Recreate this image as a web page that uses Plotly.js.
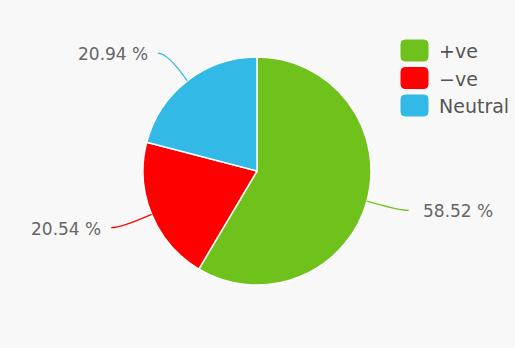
<!DOCTYPE html>
<html>
<head>
<meta charset="utf-8">
<script src="https://cdn.plot.ly/plotly-3.0.1.min.js"></script>
<style>
  html, body { margin: 0; padding: 0; background: #ffffff; }
  #chart { width: 515px; height: 348px; }
</style>
</head>
<body>
<div id="chart"></div>
<script>
// Sentiment split
const categories = ['+ve', '\u2212ve', 'Neutral'];
const shares = [58.52, 20.54, 20.94];
const sliceColors = ['#6ec21b', '#ff0000', '#33b9e6'];

const W = 515, H = 348;
const cx = 257, cy = 171, R = 114;   // pie centre and radius in pixels
const labelFont = { family: 'DejaVu Sans, sans-serif', size: 17, color: '#666666' };

const px = x => x / W;
const py = y => 1 - y / H;

const pie = {
  type: 'pie',
  labels: categories,
  values: shares,
  sort: false,
  direction: 'clockwise',
  rotation: 0,
  textinfo: 'none',
  hoverinfo: 'label+percent',
  marker: { colors: sliceColors, line: { color: '#ffffff', width: 1.5 } },
  domain: { x: [px(cx - R), px(cx + R)], y: [py(cy + R), py(cy - R)] },
  showlegend: false
};

// Connector lines and outside percentage labels, placed at each slice's mid-angle
const total = shares.reduce((a, b) => a + b, 0);
const shapes = [];
const annotations = [];
let acc = 0;
shares.forEach((v, i) => {
  const mid = (acc + v / 2) / total * 2 * Math.PI;
  acc += v;
  const dx = Math.sin(mid), dy = -Math.cos(mid);
  const ex = cx + R * dx, ey = cy + R * dy;
  const ox = cx + (R + 35) * dx, oy = cy + (R + 35) * dy;
  const side = dx >= 0 ? 1 : -1;
  const hx = ox + side * 8;
  shapes.push({
    type: 'path', xref: 'paper', yref: 'paper',
    path: `M ${px(ex)} ${py(ey)} Q ${px(ox - side * 2)} ${py(oy)} ${px(hx)} ${py(oy)}`,
    line: { color: sliceColors[i], width: 1.2 }
  });
  annotations.push({
    xref: 'paper', yref: 'paper',
    x: px(ox + side * (side > 0 ? 20 : 16)), y: py(oy + 1),
    xanchor: side > 0 ? 'left' : 'right', yanchor: 'middle',
    text: (v / total * 100).toFixed(2) + ' %',
    showarrow: false, font: labelFont
  });
});

// Legend: rounded swatches with labels
const legTop = 40, legStep = 27.5, swW = 27, swH = 21, swX = 401;
categories.forEach((name, i) => {
  const y0 = legTop + i * legStep, y1 = y0 + swH, x0 = swX, x1 = swX + swW, r = 4;
  const path = [
    `M ${px(x0 + r)} ${py(y0)}`, `L ${px(x1 - r)} ${py(y0)}`,
    `Q ${px(x1)} ${py(y0)} ${px(x1)} ${py(y0 + r)}`, `L ${px(x1)} ${py(y1 - r)}`,
    `Q ${px(x1)} ${py(y1)} ${px(x1 - r)} ${py(y1)}`, `L ${px(x0 + r)} ${py(y1)}`,
    `Q ${px(x0)} ${py(y1)} ${px(x0)} ${py(y1 - r)}`, `L ${px(x0)} ${py(y0 + r)}`,
    `Q ${px(x0)} ${py(y0)} ${px(x0 + r)} ${py(y0)}`, 'Z'
  ].join(' ');
  shapes.push({
    type: 'path', xref: 'paper', yref: 'paper', path: path,
    fillcolor: sliceColors[i], line: { color: sliceColors[i], width: 1 }
  });
  annotations.push({
    xref: 'paper', yref: 'paper',
    x: px(x1 + 9), y: py(y0 + swH / 2 + 1),
    xanchor: 'left', yanchor: 'middle',
    text: name, showarrow: false,
    font: { family: 'DejaVu Sans, sans-serif', size: 19, color: '#555555' }
  });
});

const layout = {
  width: W, height: H,
  margin: { l: 0, r: 0, t: 0, b: 0 },
  paper_bgcolor: '#f8f8f8',
  shapes: shapes,
  annotations: annotations
};

Plotly.newPlot('chart', [pie], layout, { displayModeBar: false, staticPlot: true });
</script>
</body>
</html>
